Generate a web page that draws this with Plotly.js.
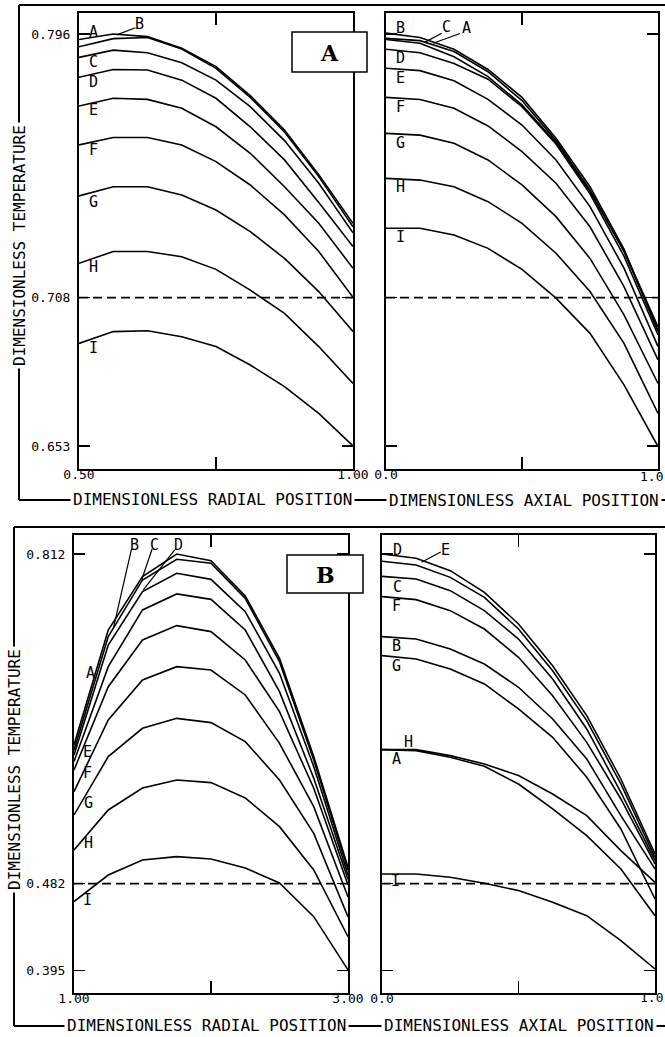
<!DOCTYPE html>
<html><head><meta charset="utf-8">
<script src="https://cdn.plot.ly/plotly-3.0.1.min.js"></script>
<style>html,body{margin:0;padding:0;background:#fff;} #chart{width:665px;height:1037px;}</style>
</head><body><div id="chart"></div>
<script>
// ---------- DATA ----------
const curveNames = ['A','B','C','D','E','F','G','H','I'];

// Panel A (top): radial profile (x 0.50 .. 1.00) and axial profile (x 0.0 .. 1.0)
const xRadialA = [0.5,0.5625,0.625,0.6875,0.75,0.8125,0.875,0.9375,1.0];
const xAxialA  = [0,0.125,0.25,0.375,0.5,0.625,0.75,0.875,1.0];
const radialA_A = [0.7941,0.7960,0.7951,0.7911,0.7847,0.7746,0.7627,0.7472,0.7303];
const radialA_B = [0.7916,0.7944,0.7948,0.7908,0.7841,0.7740,0.7620,0.7465,0.7291];
const radialA_C = [0.7879,0.7904,0.7895,0.7860,0.7800,0.7708,0.7590,0.7442,0.7270];
const radialA_D = [0.7810,0.7837,0.7835,0.7800,0.7737,0.7638,0.7523,0.7375,0.7222];
const radialA_E = [0.7710,0.7737,0.7733,0.7702,0.7638,0.7546,0.7430,0.7303,0.7147];
const radialA_F = [0.7575,0.7601,0.7601,0.7575,0.7517,0.7436,0.7332,0.7205,0.7046];
const radialA_G = [0.7398,0.7430,0.7430,0.7401,0.7349,0.7274,0.7181,0.7066,0.6927];
const radialA_H = [0.7164,0.7205,0.7205,0.7187,0.7143,0.7071,0.6990,0.6875,0.6747];
const radialA_I = [0.6886,0.6927,0.6930,0.6909,0.6875,0.6811,0.6736,0.6643,0.6530];

const axialA_A = [0.7941,0.7928,0.7881,0.7812,0.7714,0.7583,0.7413,0.7208,0.6944];
const axialA_B = [0.7963,0.7948,0.7907,0.7837,0.7740,0.7598,0.7430,0.7213,0.6927];
const axialA_C = [0.7945,0.7937,0.7899,0.7829,0.7729,0.7590,0.7419,0.7205,0.6933];
const axialA_D = [0.7907,0.7895,0.7858,0.7803,0.7708,0.7578,0.7405,0.7189,0.6915];
const axialA_E = [0.7841,0.7833,0.7798,0.7733,0.7644,0.7523,0.7361,0.7147,0.6875];
const axialA_F = [0.7740,0.7733,0.7702,0.7641,0.7552,0.7442,0.7291,0.7083,0.6829];
const axialA_G = [0.7615,0.7609,0.7581,0.7523,0.7436,0.7326,0.7181,0.6985,0.6747];
const axialA_H = [0.7459,0.7453,0.7430,0.7378,0.7303,0.7199,0.7066,0.6886,0.6643];
const axialA_I = [0.7286,0.7286,0.7262,0.7216,0.7143,0.7043,0.6921,0.6742,0.6528];

// Panel B (bottom): radial profile (x 1.00 .. 3.00) and axial profile (x 0.0 .. 1.0)
const xRadialB = [1.0,1.25,1.5,1.75,2.0,2.25,2.5,2.75,3.0];
const xAxialB  = [0,0.125,0.25,0.375,0.5,0.625,0.75,0.875,1.0];
const radialB_A = [0.6042,0.6992,0.7560,0.7720,0.7666,0.7359,0.6742,0.5875,0.4864];
const radialB_B = [0.6209,0.7359,0.7893,0.8120,0.8053,0.7700,0.7076,0.6092,0.4984];
const radialB_C = [0.6158,0.7293,0.7860,0.8067,0.8027,0.7676,0.7042,0.6058,0.4958];
const radialB_D = [0.6108,0.7209,0.7743,0.7927,0.7866,0.7543,0.6926,0.5992,0.4907];
const radialB_E = [0.5958,0.6792,0.7259,0.7403,0.7343,0.7059,0.6542,0.5775,0.4807];
const radialB_F = [0.5741,0.6459,0.6859,0.6992,0.6959,0.6709,0.6225,0.5591,0.4687];
const radialB_G = [0.5508,0.6092,0.6375,0.6475,0.6432,0.6242,0.5858,0.5324,0.4487];
const radialB_H = [0.5158,0.5558,0.5778,0.5858,0.5832,0.5678,0.5391,0.4958,0.4290];
const radialB_I = [0.4641,0.4907,0.5058,0.5091,0.5068,0.4978,0.4827,0.4490,0.3957];

const axialB_A = [0.6162,0.6162,0.6102,0.6018,0.5902,0.5718,0.5501,0.5151,0.4834];
const axialB_B = [0.7293,0.7269,0.7169,0.7019,0.6786,0.6469,0.6068,0.5501,0.4968];
const axialB_C = [0.7896,0.7870,0.7753,0.7553,0.7269,0.6869,0.6369,0.5735,0.5051];
const axialB_D = [0.8120,0.8077,0.7953,0.7736,0.7419,0.7002,0.6502,0.5868,0.5118];
const axialB_E = [0.8047,0.8010,0.7886,0.7686,0.7369,0.6952,0.6452,0.5818,0.5084];
const axialB_F = [0.7693,0.7663,0.7553,0.7369,0.7086,0.6702,0.6235,0.5668,0.5018];
const axialB_G = [0.7103,0.7069,0.6969,0.6819,0.6569,0.6285,0.5885,0.5368,0.4667];
const axialB_H = [0.6162,0.6152,0.6085,0.5995,0.5818,0.5568,0.5301,0.4968,0.4500];
const axialB_I = [0.4917,0.4917,0.4884,0.4824,0.4751,0.4634,0.4500,0.4250,0.3967];

// reference (dashed) levels
const refLevelA = 0.7045;   // drawn at the "0.708" tick
const refLevelB = 0.482;

// tick labels
const yTickValsA = [0.653, 0.7045, 0.796];
const yTickTextA = ['0.653','0.708','0.796'];
const yTickValsB = [0.395, 0.482, 0.812];
const yTickTextB = ['0.395','0.482','0.812'];
const xTickValsRadA = [0.5, 0.75, 1.0];   const xTickTextRadA = ['0.50','','1.00'];
const xTickValsRadB = [1.0, 2.0, 3.0];    const xTickTextRadB = ['1.00','','3.00'];
const xTickValsAx   = [0, 0.5, 1.0];      const xTickTextAx   = ['0.0','',''];
const axialEndLabel = '1.0';

// ---------- LAYOUT HELPERS ----------
const W = 665, H = 1037;
const px = v => v / W;
const py = v => 1 - v / H;
const MONO = 'DejaVu Sans Mono, monospace';

const panels = [
  {xa:'x',  ya:'y',  x:xRadialA, series:[radialA_A,radialA_B,radialA_C,radialA_D,radialA_E,radialA_F,radialA_G,radialA_H,radialA_I], ref:refLevelA},
  {xa:'x2', ya:'y2', x:xAxialA,  series:[axialA_A,axialA_B,axialA_C,axialA_D,axialA_E,axialA_F,axialA_G,axialA_H,axialA_I], ref:refLevelA},
  {xa:'x3', ya:'y3', x:xRadialB, series:[radialB_A,radialB_B,radialB_C,radialB_D,radialB_E,radialB_F,radialB_G,radialB_H,radialB_I], ref:refLevelB},
  {xa:'x4', ya:'y4', x:xAxialB,  series:[axialB_A,axialB_B,axialB_C,axialB_D,axialB_E,axialB_F,axialB_G,axialB_H,axialB_I], ref:refLevelB}
];

const traces = [];
panels.forEach(p => {
  traces.push({x:[p.x[0], p.x[p.x.length-1]], y:[p.ref, p.ref], xaxis:p.xa, yaxis:p.ya,
    mode:'lines', line:{color:'#000', width:1.7, dash:'9px,5px'}, hoverinfo:'skip', showlegend:false});
  p.series.forEach((s, i) => {
    traces.push({x:p.x, y:s, name:curveNames[i], xaxis:p.xa, yaxis:p.ya, mode:'lines',
      line:{color:'#000', width:1.6}, showlegend:false});
  });
});

function xAxis(domain, range, tv, tt, anchor) {
  return {domain, range, anchor, tickmode:'array', tickvals:tv, ticktext:tt,
    ticks:'inside', ticklen:12, tickwidth:1.5, tickcolor:'#000',
    showline:true, linewidth:2, linecolor:'#000', mirror:'ticks',
    showgrid:false, zeroline:false, fixedrange:true,
    tickfont:{family:MONO, size:13, color:'#000'}, ticklabelstandoff:-8};
}
function yAxis(domain, range, tv, tt, anchor, labels) {
  return {domain, range, anchor, tickmode:'array', tickvals:tv, ticktext:tt,
    ticks:'inside', ticklen:11, tickwidth:1.5, tickcolor:'#000',
    showline:true, linewidth:2, linecolor:'#000', mirror:'ticks',
    showgrid:false, zeroline:false, fixedrange:true, showticklabels:labels,
    tickfont:{family:MONO, size:13, color:'#000'}, ticklabelstandoff:4};
}

const yDomTop = [py(469), py(13)];
const yDomBot = [py(993), py(535)];
const yRangeA = [0.6450, 0.8033];
const yRangeB = [0.3726, 0.8310];

const layout = {
  width:W, height:H, margin:{l:0,r:0,t:0,b:0}, paper_bgcolor:'#fff', plot_bgcolor:'#fff',
  showlegend:false,
  xaxis:  xAxis([px(79), px(353)], [0.5, 1.0], xTickValsRadA, xTickTextRadA, 'y'),
  yaxis:  yAxis(yDomTop, yRangeA, yTickValsA, yTickTextA, 'x', true),
  xaxis2: xAxis([px(386), px(658)], [0, 1], xTickValsAx, xTickTextAx, 'y2'),
  yaxis2: yAxis(yDomTop, yRangeA, yTickValsA, yTickTextA, 'x2', false),
  xaxis3: xAxis([px(74), px(348)], [1, 3], xTickValsRadB, xTickTextRadB, 'y3'),
  yaxis3: yAxis(yDomBot, yRangeB, yTickValsB, yTickTextB, 'x3', true),
  xaxis4: xAxis([px(382), px(655)], [0, 1], xTickValsAx, xTickTextAx, 'y4'),
  yaxis4: yAxis(yDomBot, yRangeB, yTickValsB, yTickTextB, 'x4', false),
  shapes: [],
  annotations: []
};

// outer frames (lines that carry the axis titles)
const frameLine = (x0,y0,x1,y1) => ({type:'line', xref:'paper', yref:'paper',
  x0:px(x0), y0:py(y0), x1:px(x1), y1:py(y1), line:{color:'#000', width:2}, layer:'below'});
layout.shapes.push(frameLine(19,5,665,5), frameLine(19,5,19,500), frameLine(19,500,665,500));
layout.shapes.push(frameLine(14,527,665,527), frameLine(14,527,14,1026), frameLine(14,1026,665,1026));

// panel letter boxes
const boxShape = (x0,y0,x1,y1) => ({type:'rect', xref:'paper', yref:'paper',
  x0:px(x0), y0:py(y1), x1:px(x1), y1:py(y0), fillcolor:'#fff', line:{color:'#000', width:1.5}, layer:'above'});
layout.shapes.push(boxShape(292,32,367,72), boxShape(287,555,363,593));

// leader lines for crowded labels (data coordinates)
const leader = (xr, yr, x0, y0, x1, y1) => ({type:'line', xref:xr, yref:yr, x0, y0, x1, y1,
  line:{color:'#000', width:1.2}, layer:'above'});
layout.shapes.push(
  leader('x','y', 0.569, 0.7957, 0.603, 0.7982),
  leader('x2','y2', 0.142, 0.7931, 0.205, 0.7963),
  leader('x2','y2', 0.173, 0.7928, 0.272, 0.7962),
  leader('x3','y3', 1.287, 0.7376, 1.420, 0.8170),
  leader('x3','y3', 1.494, 0.7860, 1.570, 0.8170),
  leader('x3','y3', 1.506, 0.7760, 1.735, 0.8160),
  leader('x4','y4', 0.145, 0.8037, 0.215, 0.8140)
);

// axis titles riding on the frame lines
const titleAnn = (text, x, y, angle) => ({text, xref:'paper', yref:'paper', x:px(x), y:py(y),
  xanchor:'center', yanchor:'middle', showarrow:false, textangle:angle||0, bgcolor:'#fff', borderpad:2,
  font:{family:MONO, size:16, color:'#000'}});
layout.annotations.push(
  titleAnn('DIMENSIONLESS TEMPERATURE', 19, 246, -90),
  titleAnn('DIMENSIONLESS RADIAL POSITION', 212, 500),
  titleAnn('DIMENSIONLESS AXIAL POSITION', 524, 501),
  titleAnn('DIMENSIONLESS TEMPERATURE', 14, 770, -90),
  titleAnn('DIMENSIONLESS RADIAL POSITION', 206, 1025),
  titleAnn('DIMENSIONLESS AXIAL POSITION', 519, 1025)
);
// end labels of the axial axes, kept just inside the page edge
const endLabel = (yPix) => ({text:axialEndLabel, xref:'paper', yref:'paper', x:1, y:py(yPix),
  xanchor:'right', yanchor:'middle', showarrow:false, font:{family:MONO, size:13, color:'#000'}});
layout.annotations.push(endLabel(476), endLabel(997));

// panel letters
const boxLetter = (t, x, y) => ({text:'<b>'+t+'</b>', xref:'paper', yref:'paper', x:px(x), y:py(y),
  xanchor:'center', yanchor:'middle', showarrow:false, font:{family:'DejaVu Serif, serif', size:22, color:'#000'}});
layout.annotations.push(boxLetter('A', 329.5, 53), boxLetter('B', 325, 575));

// curve labels
const curveLabelPos = {
  x:  [['A',0.527,0.7966],['B',0.610,0.7995],['C',0.527,0.7864],['D',0.527,0.7794],['E',0.527,0.7696],
       ['F',0.527,0.7557],['G',0.527,0.7378],['H',0.527,0.7152],['I',0.527,0.6869]],
  x2: [['B',0.054,0.7980],['C',0.222,0.7985],['A',0.297,0.7982],['D',0.054,0.7876],['E',0.054,0.7806],
       ['F',0.054,0.7708],['G',0.054,0.7581],['H',0.054,0.7430],['I',0.054,0.7256]],
  x3: [['B',1.440,0.8210],['C',1.591,0.8210],['D',1.762,0.8210],['A',1.117,0.6926],['E',1.100,0.6141],
       ['F',1.100,0.5925],['G',1.104,0.5625],['H',1.104,0.5225],['I',1.100,0.4657]],
  x4: [['D',0.057,0.8163],['E',0.231,0.8163],['C',0.057,0.7787],['F',0.054,0.7603],['B',0.054,0.7202],
       ['G',0.054,0.7002],['H',0.097,0.6236],['A',0.054,0.6068],['I',0.050,0.4851]]
};
const yFor = {x:'y', x2:'y2', x3:'y3', x4:'y4'};
Object.keys(curveLabelPos).forEach(xr => {
  curveLabelPos[xr].forEach(([t, x, y]) => {
    layout.annotations.push({text:t, xref:xr, yref:yFor[xr], x, y, xanchor:'center', yanchor:'middle',
      showarrow:false, font:{family:MONO, size:15, color:'#000'}});
  });
});

Plotly.newPlot('chart', traces, layout, {staticPlot:true, displayModeBar:false});
</script>
</body></html>
